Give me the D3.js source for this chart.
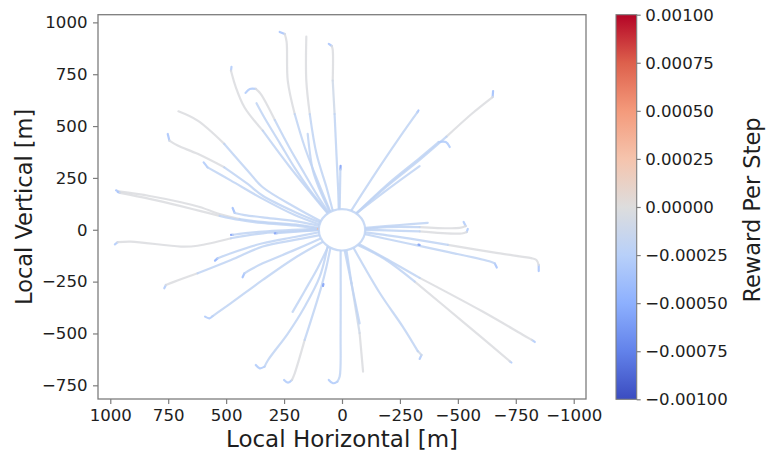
<!DOCTYPE html>
<html>
<head>
<meta charset="utf-8">
<script src="https://cdn.jsdelivr.net/npm/d3@7"></script>
<style>
  html, body { margin: 0; padding: 0; background: #fff; }
  svg { display: block; font-family: "DejaVu Sans", sans-serif; }
</style>
</head>
<body>
<svg id="chart" width="772" height="453"></svg>
<script>
// Approach trajectories in the local frame: each point is [horizontal m, vertical m, reward per step].
// Listed from the outer starting point towards the goal region around the origin.
const upperLeft = [
  [[975,190,-0.00035],[965,185,-0.00002],[830,163,-0.00002],[700,134,-0.00002],[614,110,-0.00002],[528,76,-0.00002],[442,52,-0.0002],[347,38,-0.0002],[183,23,-0.0002],[99,9,-0.0002]],
  [[968,182,-0.00035],[958,178,-0.00002],[830,149,-0.00002],[700,115,-0.00002],[614,91,-0.00002],[528,67,-0.0002],[442,47,-0.0002],[347,33,-0.0002],[183,18,-0.0002],[99,4,-0.0002]],
  [[752,462,-0.00035],[745,430,-0.00002],[709,406,-0.00002],[623,366,-0.00002],[508,301,-0.0002],[407,221,-0.0002],[342,164,-0.0002],[204,86,-0.0002],[94,35,-0.0002]],
  [[706,571,-0.00002],[623,526,-0.00002],[508,414,-0.0002],[407,285,-0.0002],[342,205,-0.0002],[204,110,-0.0002],[91,41,-0.0002]],
  [[597,325,-0.0003],[580,301,-0.0002],[479,237,-0.0002],[342,149,-0.0002],[204,71,-0.0002],[96,25,-0.0002]],
  [[472,105,-0.0004],[463,81,-0.0002],[420,71,-0.0002],[342,60,-0.0002],[183,38,-0.0002],[97,18,-0.0002]],
  [[477,786,-0.0003],[479,767,-0.00002],[458,687,-0.00002],[421,591,-0.00002],[342,478,-0.0002],[226,304,-0.0002],[62,79,-0.0002]],
  [[416,660,-0.0003],[398,679,-0.0003],[372,679,-0.00002],[351,655,-0.00002],[290,529,-0.0002],[226,394,-0.0002],[161,269,-0.0002],[105,163,-0.0002],[57,83,-0.0002]],
  [[369,610,-0.0002],[334,539,-0.0002],[269,419,-0.0002],[204,298,-0.0002],[139,192,-0.0002],[60,80,-0.0002]],
  [[269,954,-0.00035],[247,944,-0.00002],[239,906,-0.00002],[234,718,-0.00002],[204,558,-0.0002],[161,399,-0.0002],[105,235,-0.0002],[50,86,-0.0002]],
  [[154,931,-0.00002],[154,719,-0.00002],[139,558,-0.0002],[110,366,-0.0002],[67,205,-0.0002],[40,92,-0.0002]],
  [[57,896,-0.00035],[44,886,-0.00002],[40,867,-0.00002],[40,719,-0.0001],[32,558,-0.0002],[24,366,-0.0002],[17,206,-0.0002],[14,99,-0.0002]],
  [[148,462,-0.0002],[126,288,-0.0002],[96,192,-0.0002],[52,86,-0.0002]],
  [[6,308,-0.0006],[7,290,-0.0002],[10,100,-0.0002]]
];

const upperRight = [
  [[-330,575,-0.00035],[-325,566,-0.0002],[-262,467,-0.0002],[-163,304,-0.0002],[-40,92,-0.0002]],
  [[-652,669,-0.0004],[-650,640,-0.00002],[-564,563,-0.00002],[-451,449,-0.0002],[-335,337,-0.0002],[-192,208,-0.0002],[-62,78,-0.0002]],
  [[-465,399,-0.0003],[-448,423,-0.0003],[-417,423,-0.0002],[-335,346,-0.0002],[-193,216,-0.0002],[-62,79,-0.0002]],
  [[-335,307,-0.0002],[-206,202,-0.0002],[-62,79,-0.0002]]
];

const rightSide = [
  [[-525,38,-0.0003],[-534,18,-0.00002],[-508,9,-0.00002],[-335,13,-0.0002],[-193,13,-0.0002],[-97,4,-0.0002]],
  [[-543,4,-0.0003],[-538,-11,-0.00002],[-517,-18,-0.00002],[-335,-8,-0.0002],[-193,-3,-0.0002],[-98,-1,-0.0002]],
  [[-370,33,-0.0002],[-249,23,-0.0002],[-102,9,-0.0002]],
  [[-668,-182,-0.00035],[-659,-162,-0.0002],[-642,-154,-0.0002],[-465,-109,-0.0002],[-314,-73,-0.0002],[-184,-42,-0.0002],[-94,-20,-0.0002]],
  [[-849,-199,-0.00035],[-849,-170,-0.00002],[-839,-146,-0.00002],[-817,-137,-0.00002],[-673,-113,-0.00002],[-457,-73,-0.0002],[-314,-46,-0.0002],[-184,-25,-0.0002],[-94,-11,-0.0002]],
  [[-832,-541,-0.0003],[-819,-531,-0.00002],[-789,-512,-0.00002],[-603,-392,-0.00002],[-335,-232,-0.0002],[-184,-136,-0.0002],[-75,-70,-0.0002]],
  [[-731,-640,-0.0003],[-724,-634,-0.00002],[-530,-451,-0.00002],[-314,-250,-0.0002],[-184,-141,-0.0002],[-70,-75,-0.0002]],
  [[-335,-73,-0.0006],[-330,-72,-0.0006]]
];

const lowerSide = [
  [[-335,-623,-0.0003],[-343,-604,-0.0001],[-327,-585,-0.0002],[-262,-467,-0.0002],[-163,-305,-0.0002],[-50,-88,-0.0002]],
  [[-91,-684,-0.00002],[-76,-498,-0.0001],[-41,-257,-0.0002],[-19,-97,-0.0002]],
  [[-76,-451,-0.0002],[-42,-266,-0.0002],[-12,-102,-0.0002]],
  [[57,-724,-0.0003],[39,-740,-0.0003],[20,-732,-0.0002],[10,-708,-0.0002],[6,-499,-0.0002],[6,-100,-0.0002]],
  [[250,-724,-0.0003],[233,-737,-0.0003],[216,-724,-0.00002],[204,-692,-0.00002],[161,-531,-0.0002],[89,-274,-0.0002],[67,-178,-0.0002],[50,-88,-0.0002]],
  [[372,-652,-0.0003],[355,-668,-0.0003],[334,-660,-0.0002],[319,-628,-0.0002],[233,-499,-0.0002],[161,-371,-0.0002],[96,-226,-0.0002],[62,-80,-0.0002]],
  [[213,-396,-0.0002],[161,-295,-0.0002],[105,-184,-0.0002],[60,-82,-0.0002]],
  [[82,-271,-0.0006],[80,-262,-0.0006]]
];

const lowerLeft = [
  [[591,-419,-0.0003],[572,-427,-0.0003],[558,-416,-0.0002],[479,-354,-0.0002],[342,-242,-0.0002],[204,-136,-0.0002],[82,-58,-0.0002]],
  [[767,-282,-0.0003],[760,-266,-0.00002],[723,-250,-0.00002],[623,-210,-0.0002],[479,-146,-0.0002],[342,-81,-0.0002],[204,-49,-0.0002],[96,-26,-0.0002]],
  [[429,-229,-0.0004],[421,-210,-0.0002],[398,-194,-0.0002],[342,-162,-0.0002],[204,-97,-0.0002],[92,-42,-0.0002]],
  [[548,-149,-0.0005],[536,-137,-0.0002],[479,-113,-0.0002],[342,-65,-0.0002],[204,-35,-0.0002],[98,-12,-0.0002]],
  [[980,-70,-0.0003],[968,-60,-0.00002],[911,-57,-0.00002],[695,-81,-0.00002],[623,-77,-0.00002],[479,-41,-0.0002],[342,-17,-0.0002],[183,-6,-0.0002],[96,-1,-0.0002]],
  [[479,-25,-0.0006],[470,-24,-0.0002],[342,-9,-0.0002],[96,4,-0.0002]],
  [[290,-17,-0.0006],[280,-16,-0.0002],[96,-1,-0.0002]],
  [[104,4,0.0003],[100,4,0.0003]]
];

// Goal region radius [m]
const goalRadius = 100;

// Axis ticks
const xTicks = [1000, 750, 500, 250, 0, -250, -500, -750, -1000];
const yTicks = [1000, 750, 500, 250, 0, -250, -500, -750];
const rewardTicks = [0.001, 0.00075, 0.0005, 0.00025, 0, -0.00025, -0.0005, -0.00075, -0.001];
const rewardRange = [-0.001, 0.001];

// Diverging blue-grey-red colour map
const cmapStops = [
  [0.0,   "#3b4cc0"], [0.125, "#6282ea"], [0.25,  "#8db0fe"], [0.375, "#b8d0f9"],
  [0.5,   "#dddddd"], [0.625, "#f5c4ad"], [0.75,  "#f49a7b"], [0.875, "#dd604c"],
  [1.0,   "#b40426"]
];
const cmap = d3.scaleLinear()
  .domain(cmapStops.map(d => d[0]))
  .range(cmapStops.map(d => d[1]))
  .interpolate(d3.interpolateRgb)
  .clamp(true);
const rewardNorm = d3.scaleLinear().domain(rewardRange).range([0, 1]).clamp(true);
const rewardColor = v => cmap(rewardNorm(v));

const svg = d3.select("#chart");
const plot = { left: 98, right: 586, top: 14.7, bottom: 399 };
const x = d3.scaleLinear().domain([1053, -1053]).range([plot.left, plot.right]);
const y = d3.scaleLinear().domain([-816, 1037]).range([plot.bottom, plot.top]);

const textColor = "#1e1e1e";
const spineColor = "#7d7d7d";

svg.append("defs").append("clipPath").attr("id", "plotclip")
  .append("rect")
  .attr("x", plot.left).attr("y", plot.top)
  .attr("width", plot.right - plot.left).attr("height", plot.bottom - plot.top);

const gLines = svg.append("g").attr("clip-path", "url(#plotclip)");

// Split a trajectory into runs of constant reward (segment i -> i+1 uses point i's reward)
function runsOf(pts) {
  const out = [];
  let cur = [pts[0]], r = pts[0][2];
  for (let i = 1; i < pts.length; i++) {
    cur.push(pts[i]);
    if (i < pts.length - 1 && pts[i][2] !== r) {
      out.push({ r, pts: cur });
      cur = [pts[i]];
      r = pts[i][2];
    }
  }
  out.push({ r, pts: cur });
  return out;
}

const line = d3.line()
  .x(d => x(d[0]))
  .y(d => y(d[1]))
  .curve(d3.curveCatmullRom.alpha(0.5));

const trajectories = [].concat(upperLeft, upperRight, rightSide, lowerSide, lowerLeft);
trajectories.forEach(traj => {
  runsOf(traj).forEach(run => {
    gLines.append("path")
      .attr("d", line(run.pts))
      .attr("fill", "none")
      .attr("stroke", rewardColor(run.r))
      .attr("stroke-opacity", 0.85)
      .attr("stroke-width", 2.2)
      .attr("stroke-linecap", "round")
      .attr("stroke-linejoin", "round");
  });
});

// Goal region boundary
gLines.append("ellipse")
  .attr("cx", x(0)).attr("cy", y(0))
  .attr("rx", Math.abs(x(goalRadius) - x(0)))
  .attr("ry", Math.abs(y(goalRadius) - y(0)))
  .attr("fill", "#fff")
  .attr("stroke", rewardColor(-0.0002))
  .attr("stroke-opacity", 0.85)
  .attr("stroke-width", 2.2);

// Frame
svg.append("rect")
  .attr("x", plot.left).attr("y", plot.top)
  .attr("width", plot.right - plot.left).attr("height", plot.bottom - plot.top)
  .attr("fill", "none").attr("stroke", spineColor).attr("stroke-width", 1.3);

const fmtAxis = d3.format("d");
const tickFont = 16.6;

const xAxis = svg.append("g")
  .attr("transform", `translate(0,${plot.bottom})`)
  .call(d3.axisBottom(x).tickValues(xTicks).tickFormat(fmtAxis).tickSize(5).tickPadding(5.5));
const yAxis = svg.append("g")
  .attr("transform", `translate(${plot.left},0)`)
  .call(d3.axisLeft(y).tickValues(yTicks).tickFormat(fmtAxis).tickSize(5).tickPadding(5.5));

[xAxis, yAxis].forEach(g => {
  g.select(".domain").remove();
  g.selectAll(".tick line").attr("stroke", spineColor).attr("stroke-width", 1.2);
  g.selectAll(".tick text").attr("fill", textColor).style("font-size", tickFont + "px")
    .style("font-family", '"DejaVu Sans", sans-serif');
});

// Axis titles
svg.append("text")
  .attr("x", (plot.left + plot.right) / 2).attr("y", 447)
  .attr("text-anchor", "middle")
  .attr("fill", textColor)
  .style("font-size", "23px")
  .text("Local Horizontal [m]");

svg.append("text")
  .attr("transform", `translate(31.5,${(plot.top + plot.bottom) / 2}) rotate(-90)`)
  .attr("text-anchor", "middle")
  .attr("fill", textColor)
  .style("font-size", "22.5px")
  .text("Local Vertical [m]");

// Colour bar
const cb = { left: 616, right: 636.7, top: 14.7, bottom: 399.3 };
const grad = svg.select("defs").append("linearGradient")
  .attr("id", "cbgrad").attr("x1", 0).attr("y1", 1).attr("x2", 0).attr("y2", 0);
cmapStops.forEach(([t, c]) => {
  grad.append("stop").attr("offset", t).attr("stop-color", c);
});
svg.append("rect")
  .attr("x", cb.left).attr("y", cb.top)
  .attr("width", cb.right - cb.left).attr("height", cb.bottom - cb.top)
  .attr("fill", "url(#cbgrad)")
  .attr("stroke", spineColor).attr("stroke-width", 1.1);

const cbScale = d3.scaleLinear().domain(rewardRange).range([cb.bottom, cb.top]);
const cbAxis = svg.append("g")
  .attr("transform", `translate(${cb.right},0)`)
  .call(d3.axisRight(cbScale).tickValues(rewardTicks).tickFormat(d3.format(".5f")).tickSize(4).tickPadding(4.5));
cbAxis.select(".domain").remove();
cbAxis.selectAll(".tick line").attr("stroke", spineColor).attr("stroke-width", 1.2);
cbAxis.selectAll(".tick text").attr("fill", textColor).style("font-size", tickFont + "px")
  .style("font-family", '"DejaVu Sans", sans-serif');

svg.append("text")
  .attr("transform", `translate(759.5,${(cb.top + cb.bottom) / 2 + 3}) rotate(-90)`)
  .attr("text-anchor", "middle")
  .attr("fill", textColor)
  .style("font-size", "22.5px")
  .text("Reward Per Step");
</script>
</body>
</html>
